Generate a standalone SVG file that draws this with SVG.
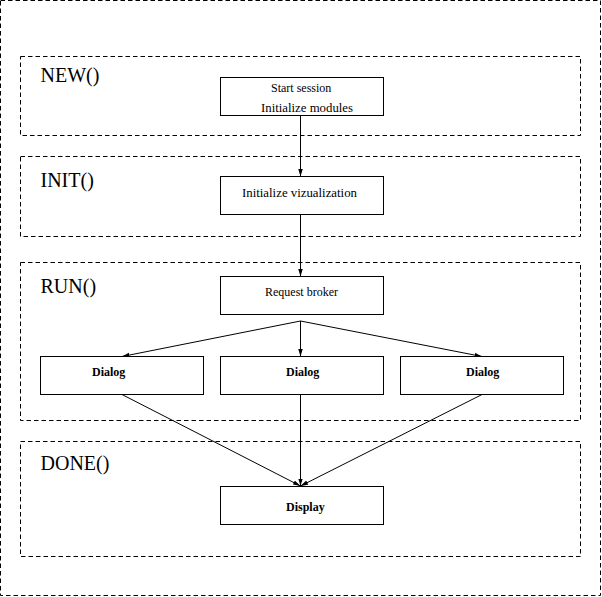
<svg xmlns="http://www.w3.org/2000/svg" width="602" height="597" viewBox="0 0 602 597">
<style>
.frame{fill:none;stroke:#000;stroke-width:1;stroke-dasharray:4.5 3}
.box{fill:#fff;stroke:#000;stroke-width:1}
.sec{font-family:"Liberation Serif","Times New Roman",serif;font-size:20px;fill:#000}
.lbl{font-family:"Liberation Serif","Times New Roman",serif;font-size:12px;fill:#000}
.b{font-weight:bold}
.edge{fill:none;stroke:#000;stroke-width:1}
</style>
<defs>
<marker id="ah" markerUnits="userSpaceOnUse" markerWidth="8" markerHeight="5" refX="7.5" refY="2.25" orient="auto">
<path d="M0,0 L7.5,2.25 L0,4.5 z" fill="#000"/>
</marker>
</defs>
<rect class="frame" x="0.5" y="0.5" width="600" height="595"/>
<g id="sec-new"><rect class="frame" x="20.5" y="56.5" width="560" height="79"/><text class="sec" x="40.5" y="81.5">NEW()</text></g>
<g id="sec-init"><rect class="frame" x="20.5" y="156.5" width="560" height="80"/><text class="sec" x="40.5" y="187">INIT()</text></g>
<g id="sec-run"><rect class="frame" x="20.5" y="262.5" width="560" height="158"/><text class="sec" x="40.5" y="292.5">RUN()</text></g>
<g id="sec-done"><rect class="frame" x="20.5" y="441.5" width="560" height="115"/><text class="sec" x="40.5" y="469.5">DONE()</text></g>
<g id="connectors">
<line class="edge" x1="300.5" y1="115.5" x2="300.5" y2="176.5" marker-end="url(#ah)"/>
<line class="edge" x1="300.5" y1="214.5" x2="300.5" y2="276.5" marker-end="url(#ah)"/>
<line class="edge" x1="300.5" y1="321" x2="122" y2="356.5" marker-end="url(#ah)"/>
<line class="edge" x1="300.5" y1="321" x2="300.5" y2="356.5" marker-end="url(#ah)"/>
<line class="edge" x1="300.5" y1="321" x2="482" y2="356.5" marker-end="url(#ah)"/>
<line class="edge" x1="122" y1="394.5" x2="300.5" y2="486" marker-end="url(#ah)"/>
<line class="edge" x1="300.5" y1="394.5" x2="300.5" y2="486" marker-end="url(#ah)"/>
<line class="edge" x1="482" y1="394.5" x2="300.5" y2="486" marker-end="url(#ah)"/>
</g>
<g id="n-start"><rect class="box" x="220.5" y="77.5" width="163" height="38"/><text class="lbl" x="271" y="92">Start session</text><text class="lbl" x="261" y="111.5" textLength="92" lengthAdjust="spacingAndGlyphs">Initialize modules</text></g>
<g id="n-initviz"><rect class="box" x="220.5" y="176.5" width="163" height="38"/><text class="lbl" x="242" y="197" textLength="115" lengthAdjust="spacingAndGlyphs">Initialize vizualization</text></g>
<g id="n-broker"><rect class="box" x="220.5" y="276.5" width="163" height="38"/><text class="lbl" x="265" y="295.5">Request broker</text></g>
<g id="n-dialog1"><rect class="box" x="40.5" y="356.5" width="163" height="38"/><text class="lbl b" x="92" y="376">Dialog</text></g>
<g id="n-dialog2"><rect class="box" x="220.5" y="356.5" width="163" height="38"/><text class="lbl b" x="286" y="376">Dialog</text></g>
<g id="n-dialog3"><rect class="box" x="400.5" y="356.5" width="163" height="38"/><text class="lbl b" x="466" y="376">Dialog</text></g>
<g id="n-display"><rect class="box" x="220.5" y="486.5" width="163" height="38"/><text class="lbl b" x="286" y="511">Display</text></g>
</svg>
